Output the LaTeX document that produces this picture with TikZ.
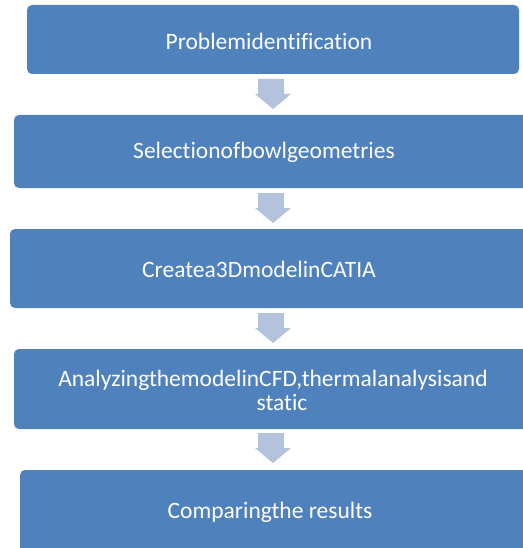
\documentclass[tikz,border=0pt]{standalone}
\usepackage{fontspec}
\setmainfont[Ligatures=CommonOff]{Carlito}
\definecolor{stepblue}{HTML}{4F81BD}
\definecolor{arrowblue}{HTML}{B3C3DE}
\begin{document}
\begin{tikzpicture}[x=1pt,y=-1pt,
  stagebox/.style={fill=stepblue,rounded corners=5pt},
  stagetext/.style={text=white,font=\fontsize{23.5}{24}\selectfont,align=center},
  downarrow/.style={fill=arrowblue}]
\useasboundingbox (0,0) rectangle (522,548);
% process stages
\fill[stagebox] (27,5) rectangle (519,74);
\node[stagetext] (s1) at (269,41) {Problemidentification};
\fill[stagebox] (14,115) rectangle (528,188);
\node[stagetext] (s2) at (264,152) {Selectionofbowlgeometries};
\fill[stagebox] (10,229) rectangle (528,308);
\node[stagetext] (s3) at (259,269) {Createa3DmodelinCATIA};
\fill[stagebox] (14,349) rectangle (528,429);
\node[stagetext] (s4) at (273,390) {AnalyzingthemodelinCFD,thermalanalysisand\\\hspace*{18pt}static};
\fill[stagebox] (20,470) rectangle (528,555);
\node[stagetext] (s5) at (270,512) {Comparingthe results};
% block arrows between stages
\foreach \t in {79,193,313,433}{
  \fill[downarrow] (258,\t) -- (284,\t) -- (284,\t+15) -- (291,\t+15)
    -- (273,\t+30) -- (255,\t+15) -- (258,\t+15) -- cycle;
}
\end{tikzpicture}
\end{document}
